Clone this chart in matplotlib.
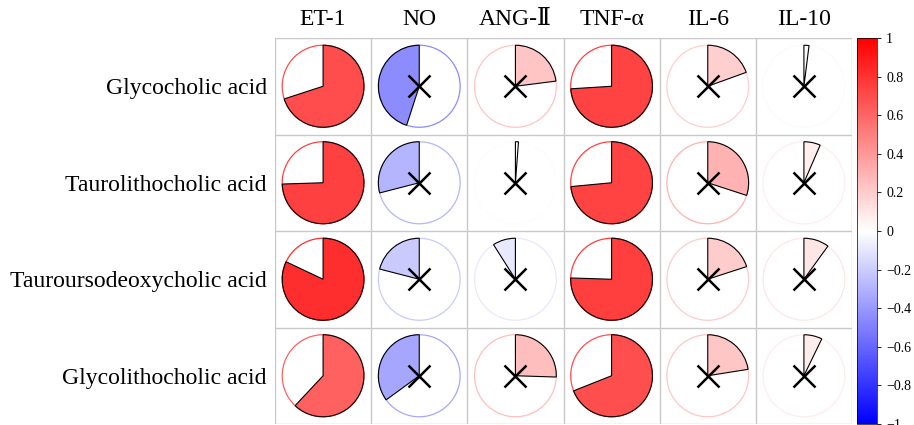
import numpy as np
import matplotlib
matplotlib.use('Agg')
import matplotlib.pyplot as plt
from matplotlib.patches import Wedge, Circle
from matplotlib.colors import Normalize
from matplotlib.cm import ScalarMappable

plt.rcParams['font.family'] = ['Liberation Serif', 'DejaVu Serif']

acids = ['Glycocholic acid', 'Taurolithocholic acid',
         'Tauroursodeoxycholic acid', 'Glycolithocholic acid']
markers = ['ET-1', 'NO', 'ANG-\u2161', 'TNF-\u03b1', 'IL-6', 'IL-10']

# correlation values, one row per acid
r_glycocholic = [0.70, -0.45, 0.23, 0.74, 0.195, 0.02]
r_taurolithocholic = [0.745, -0.29, 0.012, 0.735, 0.30, 0.065]
r_tauroursodeoxy = [0.82, -0.21, -0.09, 0.755, 0.20, 0.10]
r_glycolithocholic = [0.62, -0.35, 0.255, 0.69, 0.225, 0.072]
corr = np.array([r_glycocholic, r_taurolithocholic,
                 r_tauroursodeoxy, r_glycolithocholic])

# True = not significant (drawn with a cross)
nonsig_cols = [False, True, True, False, True, True]

cb_ticks = [1, 0.8, 0.6, 0.4, 0.2, 0, -0.2, -0.4, -0.6, -0.8, -1]
cb_labels = ['1', '0.8', '0.6', '0.4', '0.2', '0',
             '\u22120.2', '\u22120.4', '\u22120.6', '\u22120.8', '\u22121']

cmap = plt.get_cmap('bwr')
norm = Normalize(-1, 1)

W, H = 914, 425
fig = plt.figure(figsize=(W / 100, H / 100), dpi=100)
ax = fig.add_axes([275 / W, 1 / H, 577 / W, 386 / H])

nr, nc = corr.shape
rad = 0.425
for i in range(nr):
    y = nr - 1 - i
    for j in range(nc):
        v = corr[i, j]
        col = cmap(norm(v))
        ax.add_patch(Circle((j, y), rad, facecolor='white', edgecolor=col, lw=0.9, zorder=2))
        if v >= 0:
            t1, t2 = 90 - 360 * v, 90
        else:
            t1, t2 = 90, 90 - 360 * v
        ax.add_patch(Wedge((j, y), rad, t1, t2, facecolor=col, edgecolor='black', lw=0.8, zorder=3))
        if nonsig_cols[j]:
            ax.plot(j, y, marker='x', color='black', ms=16, mew=1.8, zorder=4)

# cell grid
for k in range(nc + 1):
    ax.axvline(k - 0.5, color='#c8c8c8', lw=1, zorder=1)
for k in range(nr + 1):
    ax.axhline(k - 0.5, color='#c8c8c8', lw=1, zorder=1)

ax.set_xlim(-0.5, nc - 0.5)
ax.set_ylim(-0.5, nr - 0.5)
for s in ax.spines.values():
    s.set_visible(False)
ax.set_xticks(range(nc))
ax.set_xticklabels(markers, fontsize=17)
ax.xaxis.tick_top()
ax.set_yticks(range(nr))
ax.set_yticklabels(acids[::-1], fontsize=17)
ax.tick_params(length=0, pad=6)

cax = fig.add_axes([857 / W, 1 / H, 20 / W, 386 / H])
cb = fig.colorbar(ScalarMappable(norm=norm, cmap=cmap), cax=cax)
cb.set_ticks(cb_ticks)
cb.set_ticklabels(cb_labels)
cb.outline.set_linewidth(0.5)
cax.tick_params(labelsize=10, length=3, width=0.6)

fig.savefig('out.png', dpi=100)
